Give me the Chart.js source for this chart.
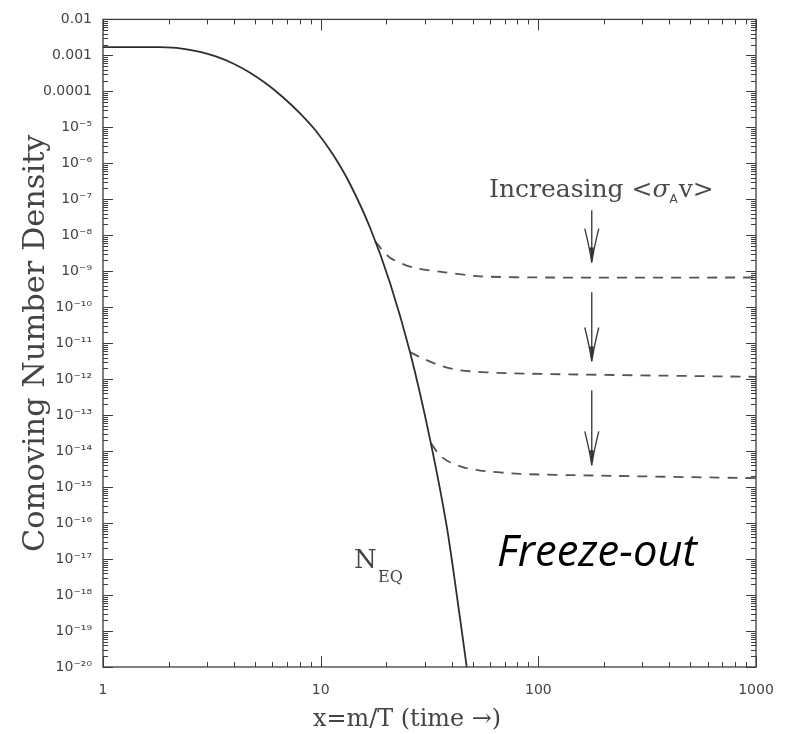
<!DOCTYPE html>
<html>
<head>
<meta charset="utf-8">
<script src="https://cdn.jsdelivr.net/npm/chart.js@4/dist/chart.umd.min.js"></script>
<style>
  html, body { margin: 0; padding: 0; background: #fff; }
</style>
</head>
<body>
<canvas id="freezeChart" width="794" height="734"></canvas>
<script>
// equilibrium curve
const eqX = [1, 1.48, 1.83, 2.26, 2.79, 3.30, 3.96, 4.74, 5.67, 6.71, 8.04, 9.52, 11.39, 13.64, 16.85, 20.83, 25.73, 31.79, 38.06, 43.67, 46.88];
const eqY = [1.7e-3, 1.7e-3, 1.69e-3, 1.57e-3, 1.26e-3, 9.33e-4, 5.94e-4, 3.28e-4, 1.57e-4, 6.87e-5, 2.45e-5, 7.91e-6, 1.75e-6, 2.66e-7, 1.64e-8, 4.74e-10, 5.66e-12, 2.16e-14, 7.23e-17, 2.28e-19, 1e-20];

// freeze-out curves, one per <sigma v>
const fo1X = [17.77, 20.82, 26.6, 38.05, 53.95, 113, 1000];
const fo1Y = [6.78e-9, 2.38e-9, 1.27e-9, 9.2e-10, 7.2e-10, 6.7e-10, 6.7e-10];
const fo2X = [25.73, 29.52, 35.33, 43.66, 76.5, 1000];
const fo2Y = [5.66e-12, 3.75e-12, 2.41e-12, 1.76e-12, 1.45e-12, 1.16e-12];
const fo3X = [32.14, 35.33, 39.28, 46.04, 53.95, 82.4, 178, 1000];
const fo3Y = [1.64e-14, 7.6e-15, 4.89e-15, 3.45e-15, 2.89e-15, 2.33e-15, 2.1e-15, 1.77e-15];

// arrows "Increasing <sigma v>"
const arrowX = [176, 176, 176];
const arrowTop = [4.97e-8, 2.6e-10, 4.95e-13];
const arrowTip = [1.74e-9, 3.1e-12, 4.04e-15];

// tick labels
const xTickLabels = ['1', '10', '100', '1000'];
const yTickLabels = ['0.01', '0.001', '0.0001', '10⁻⁵', '10⁻⁶', '10⁻⁷', '10⁻⁸', '10⁻⁹', '10⁻¹⁰',
  '10⁻¹¹', '10⁻¹²', '10⁻¹³', '10⁻¹⁴', '10⁻¹⁵', '10⁻¹⁶', '10⁻¹⁷', '10⁻¹⁸', '10⁻¹⁹', '10⁻²⁰'];

function pts(xs, ys) {
  return xs.map((x, i) => ({ x: x, y: ys[i] }));
}

function isDecade(v) {
  const e = Math.round(Math.log10(v));
  return Math.abs(v / Math.pow(10, e) - 1) < 1e-6;
}

function logTicks(lo, hi) {
  const t = [];
  for (let e = lo; e <= hi; e++) {
    t.push({ value: Math.pow(10, e), major: true });
    if (e < hi) {
      for (let m = 2; m <= 9; m++) t.push({ value: m * Math.pow(10, e), major: false });
    }
  }
  return t;
}

// pick a font size so the text spans the given width
function fitFont(ctx, text, family, style, width) {
  ctx.font = style + ' 20px ' + family;
  const w = ctx.measureText(text).width;
  return 20 * width / w;
}

const frameTicks = {
  id: 'frameTicks',
  afterDatasetsDraw(chart) {
    const { ctx, chartArea: a, scales: { x, y } } = chart;
    ctx.save();
    ctx.strokeStyle = '#3c3c3c';
    ctx.lineWidth = 1.3;
    ctx.strokeRect(a.left, a.top, a.right - a.left, a.bottom - a.top);
    ctx.lineWidth = 1;
    ctx.beginPath();
    x.ticks.forEach(t => {
      const px = Math.round(x.getPixelForValue(t.value)) + 0.5;
      const len = t.major ? 11 : 5;
      ctx.moveTo(px, a.bottom); ctx.lineTo(px, a.bottom - len);
      ctx.moveTo(px, a.top); ctx.lineTo(px, a.top + len);
    });
    y.ticks.forEach(t => {
      const py = Math.round(y.getPixelForValue(t.value)) + 0.5;
      const len = t.major ? 10 : 5;
      ctx.moveTo(a.left, py); ctx.lineTo(a.left + len, py);
      ctx.moveTo(a.right, py); ctx.lineTo(a.right - len, py);
    });
    ctx.stroke();

    // arrows
    ctx.strokeStyle = '#333';
    ctx.fillStyle = '#333';
    arrowX.forEach((ax, i) => {
      const px = x.getPixelForValue(ax);
      const top = y.getPixelForValue(arrowTop[i]);
      const tip = y.getPixelForValue(arrowTip[i]);
      ctx.lineWidth = 1.3;
      ctx.beginPath();
      ctx.moveTo(px, top); ctx.lineTo(px, tip);
      ctx.moveTo(px - 7, tip - 34); ctx.quadraticCurveTo(px - 2, tip - 14, px, tip);
      ctx.moveTo(px + 7, tip - 34); ctx.quadraticCurveTo(px + 2, tip - 14, px, tip);
      ctx.stroke();
      ctx.beginPath();
      ctx.moveTo(px - 2, tip - 15); ctx.lineTo(px + 2, tip - 15); ctx.lineTo(px, tip);
      ctx.closePath();
      ctx.fill();
    });
    ctx.restore();
  }
};

const annotations = {
  id: 'annotations',
  afterDraw(chart) {
    const { ctx, chartArea: a } = chart;
    ctx.save();
    ctx.fillStyle = '#444';
    ctx.textBaseline = 'alphabetic';

    // y axis title
    const yTitle = 'Comoving Number Density';
    let s = fitFont(ctx, yTitle, '"DejaVu Serif"', 'normal', 418);
    ctx.save();
    ctx.translate(44, (a.top + a.bottom) / 2);
    ctx.rotate(-Math.PI / 2);
    ctx.font = s.toFixed(1) + 'px "DejaVu Serif"';
    ctx.textAlign = 'center';
    ctx.fillText(yTitle, 0, 0);
    ctx.restore();

    // x axis title
    const xTitle = 'x=m/T (time →)';
    s = fitFont(ctx, xTitle, '"DejaVu Serif"', 'normal', 188);
    ctx.font = s.toFixed(1) + 'px "DejaVu Serif"';
    ctx.textAlign = 'left';
    ctx.fillText(xTitle, 313, 726);

    // Increasing <sigma_A v>
    ctx.fillStyle = '#4a4a4a';
    ctx.font = '25px "DejaVu Serif"';
    let tx = 489;
    const ty = 197;
    ctx.fillText('Increasing <', tx, ty);
    tx += ctx.measureText('Increasing <').width;
    ctx.font = 'italic 25px "DejaVu Serif"';
    ctx.fillText('σ', tx, ty);
    tx += ctx.measureText('σ').width;
    ctx.font = '12px "DejaVu Sans"';
    ctx.fillText('A', tx, ty + 6);
    tx += ctx.measureText('A').width + 1;
    ctx.font = '25px "DejaVu Serif"';
    ctx.fillText('v>', tx, ty);

    // N_EQ
    ctx.fillStyle = '#444';
    ctx.font = '26px "DejaVu Serif"';
    ctx.fillText('N', 354, 568);
    ctx.font = '16px "DejaVu Serif"';
    ctx.fillText('EQ', 378, 582);

    // Freeze-out
    ctx.fillStyle = '#000';
    s = fitFont(ctx, 'Freeze-out', '"Open Sans"', 'italic', 200);
    ctx.font = 'italic ' + s.toFixed(1) + 'px "Open Sans"';
    ctx.fillText('Freeze-out', 497, 566);
    ctx.restore();
  }
};

const tickFont = { family: '"DejaVu Sans", sans-serif', size: 14 };

const ctx = document.getElementById('freezeChart').getContext('2d');
new Chart(ctx, {
  type: 'line',
  data: {
    datasets: [
      { label: 'N_EQ', data: pts(eqX, eqY), borderColor: '#2e2e2e', borderWidth: 1.8 },
      { label: 'fo1', data: pts(fo1X, fo1Y), borderColor: '#555', borderWidth: 1.8, borderDash: [10, 8] },
      { label: 'fo2', data: pts(fo2X, fo2Y), borderColor: '#555', borderWidth: 1.8, borderDash: [10, 8] },
      { label: 'fo3', data: pts(fo3X, fo3Y), borderColor: '#555', borderWidth: 1.8, borderDash: [10, 8] }
    ]
  },
  options: {
    responsive: false,
    animation: false,
    elements: {
      point: { radius: 0 },
      line: { tension: 0.25, fill: false }
    },
    layout: { padding: { left: 0, top: 12, right: 38, bottom: 0 } },
    plugins: {
      legend: { display: false },
      tooltip: { enabled: false }
    },
    scales: {
      x: {
        type: 'logarithmic',
        min: 1,
        max: 1000,
        afterFit: s => { s.height = 67; },
        afterBuildTicks: s => { s.ticks = logTicks(0, 3); },
        grid: { display: false, drawTicks: false },
        border: { display: false },
        ticks: {
          autoSkip: false,
          maxRotation: 0,
          padding: 15,
          color: '#444',
          font: tickFont,
          callback: v => isDecade(v) ? xTickLabels[Math.round(Math.log10(v))] : ''
        }
      },
      y: {
        type: 'logarithmic',
        min: 1e-20,
        max: 0.01,
        afterFit: s => { s.width = 103; },
        afterBuildTicks: s => { s.ticks = logTicks(-20, -2); },
        grid: { display: false, drawTicks: false },
        border: { display: false },
        ticks: {
          autoSkip: false,
          padding: 11,
          color: '#444',
          font: tickFont,
          callback: v => isDecade(v) ? yTickLabels[-2 - Math.round(Math.log10(v))] : ''
        }
      }
    }
  },
  plugins: [frameTicks, annotations]
});
</script>
</body>
</html>
